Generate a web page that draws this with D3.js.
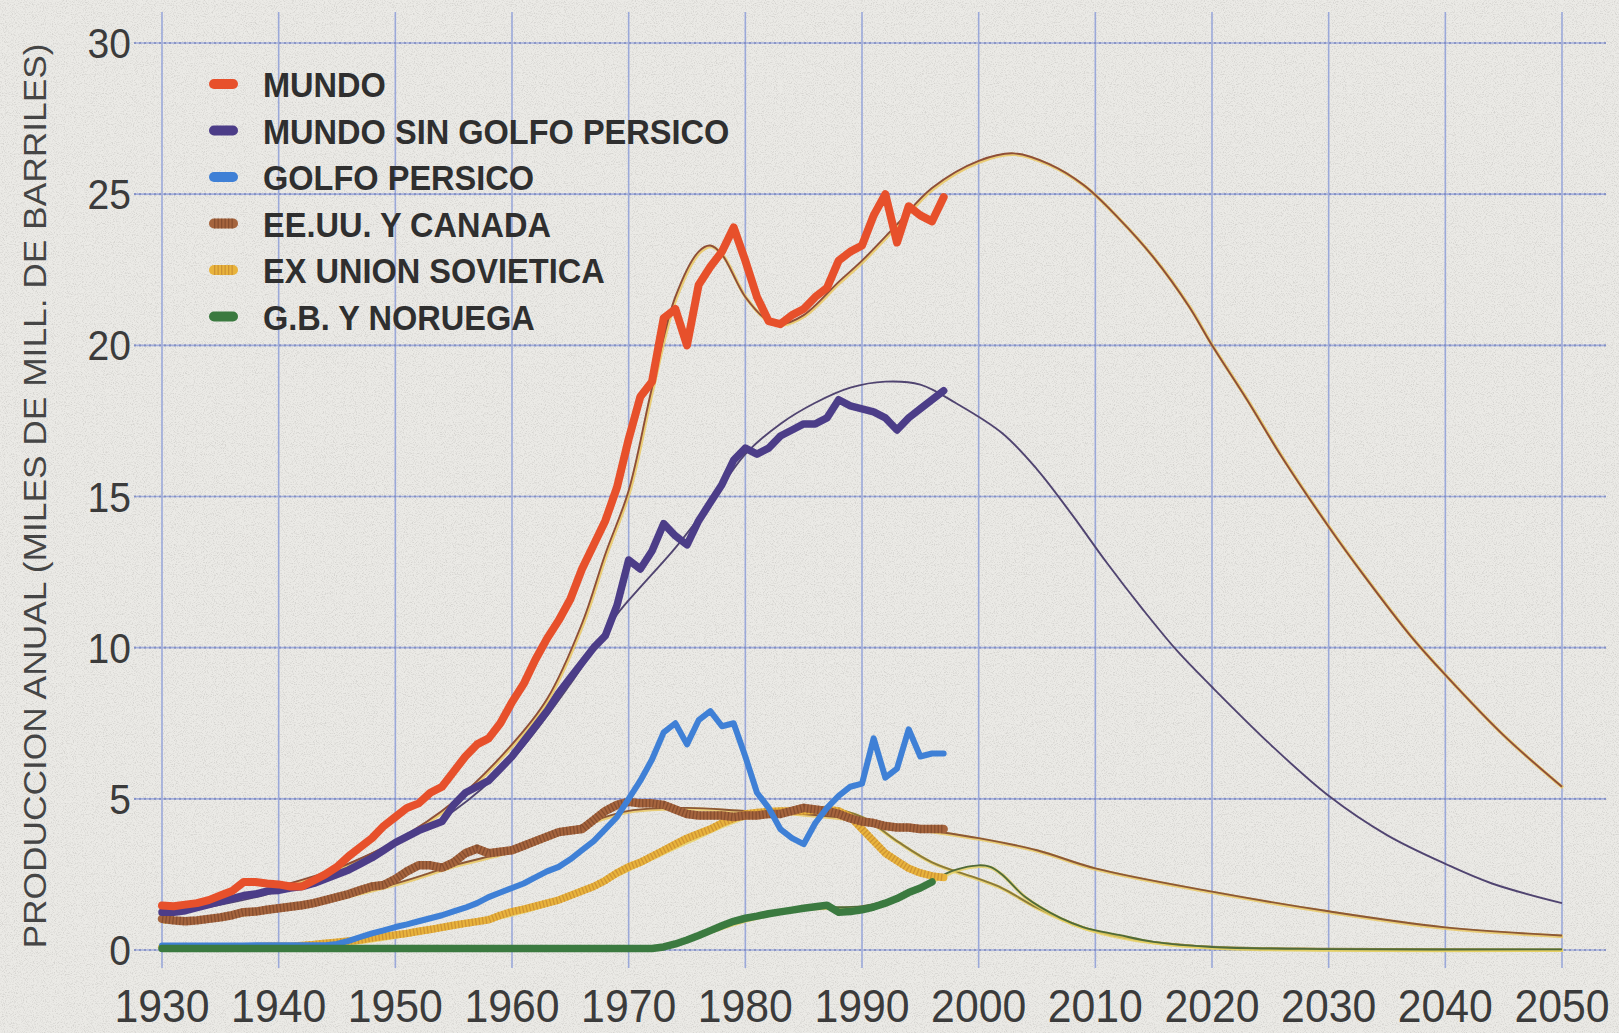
<!DOCTYPE html>
<html>
<head>
<meta charset="utf-8">
<script src="https://cdn.jsdelivr.net/npm/d3@7"></script>
<style>
  html, body { margin: 0; padding: 0; background: #ebeae6; }
  svg { display: block; }
</style>
</head>
<body>
<div id="chart"></div>
<script>
// ---- data ----
const years = [1930,1931,1932,1933,1934,1935,1936,1937,1938,1939,
  1940,1941,1942,1943,1944,1945,1946,1947,1948,1949,
  1950,1951,1952,1953,1954,1955,1956,1957,1958,1959,
  1960,1961,1962,1963,1964,1965,1966,1967,1968,1969,
  1970,1971,1972,1973,1974,1975,1976,1977,1978,1979,
  1980,1981,1982,1983,1984,1985,1986,1987,1988,1989,
  1990,1991,1992,1993,1994,1995,1996,1997];

const mundo = [1.47,1.45,1.5,1.55,1.65,1.8,1.95,2.25,2.25,2.2,
  2.17,2.1,2.1,2.3,2.5,2.75,3.1,3.4,3.7,4.1,
  4.4,4.7,4.85,5.2,5.4,5.9,6.4,6.8,7.0,7.5,
  8.2,8.8,9.6,10.3,10.9,11.6,12.6,13.4,14.2,15.3,
  16.9,18.3,18.8,20.9,21.2,20.0,22.0,22.6,23.1,23.9,
  22.8,21.6,20.8,20.7,21.0,21.2,21.6,21.9,22.8,23.1,
  23.3,24.3,25.0,23.4,24.6,24.3,24.1,24.9];

const mundoSinGolfo = [1.25,1.25,1.3,1.4,1.5,1.6,1.7,1.8,1.85,1.95,
  1.97,2.05,2.1,2.2,2.35,2.5,2.65,2.85,3.05,3.3,
  3.55,3.75,3.95,4.1,4.25,4.8,5.2,5.4,5.6,6.0,
  6.4,6.9,7.4,7.9,8.5,9.0,9.5,10.0,10.4,11.4,
  12.9,12.6,13.2,14.1,13.7,13.4,14.2,14.8,15.4,16.2,
  16.6,16.4,16.6,17.0,17.2,17.4,17.4,17.6,18.2,18.0,
  17.9,17.8,17.6,17.2,17.6,17.9,18.2,18.5];

const golfoPersico = [0.15,0.15,0.15,0.15,0.15,0.15,0.15,0.15,0.16,0.16,
  0.16,0.16,0.16,0.16,0.16,0.2,0.3,0.43,0.55,0.65,
  0.76,0.85,0.95,1.05,1.15,1.28,1.4,1.55,1.75,1.9,
  2.05,2.2,2.4,2.6,2.75,3.0,3.3,3.6,4.0,4.4,
  5.0,5.6,6.3,7.2,7.5,6.8,7.6,7.9,7.4,7.5,
  6.4,5.2,4.7,4.0,3.7,3.5,4.2,4.7,5.1,5.4,
  5.5,7.0,5.7,6.0,7.3,6.4,6.5,6.5];

const eeuuCanada = [1.03,0.98,0.95,0.98,1.03,1.08,1.15,1.25,1.27,1.33,
  1.38,1.43,1.48,1.55,1.65,1.75,1.85,1.98,2.1,2.15,
  2.35,2.6,2.8,2.8,2.72,2.9,3.2,3.35,3.2,3.25,
  3.3,3.45,3.6,3.75,3.9,3.95,4.0,4.3,4.6,4.8,
  4.9,4.85,4.85,4.8,4.65,4.5,4.45,4.45,4.45,4.4,
  4.45,4.45,4.5,4.5,4.6,4.7,4.65,4.6,4.5,4.35,
  4.25,4.2,4.1,4.05,4.05,4.0,4.0,4.0];

const exUrss = [0.1,0.1,0.1,0.1,0.1,0.1,0.1,0.11,0.11,0.12,
  0.12,0.12,0.15,0.18,0.22,0.26,0.3,0.33,0.4,0.45,
  0.5,0.55,0.62,0.68,0.75,0.82,0.88,0.94,1.0,1.15,
  1.27,1.35,1.45,1.55,1.65,1.8,1.95,2.1,2.3,2.55,
  2.75,2.9,3.1,3.3,3.5,3.7,3.85,4.0,4.2,4.35,
  4.5,4.55,4.58,4.6,4.6,4.6,4.62,4.65,4.6,4.4,
  4.0,3.6,3.2,2.95,2.7,2.55,2.45,2.4];

// G.B. y Noruega ends in 1996
const gbNoruega = [0.05,0.05,0.05,0.05,0.05,0.05,0.05,0.05,0.05,0.05,
  0.05,0.05,0.05,0.05,0.05,0.05,0.05,0.05,0.05,0.05,
  0.05,0.05,0.05,0.05,0.05,0.05,0.05,0.05,0.05,0.05,
  0.05,0.05,0.05,0.05,0.05,0.05,0.05,0.05,0.05,0.05,
  0.05,0.05,0.05,0.1,0.2,0.33,0.48,0.64,0.8,0.95,
  1.05,1.12,1.2,1.26,1.32,1.38,1.43,1.48,1.25,1.27,
  1.33,1.42,1.55,1.7,1.9,2.05,2.25];

// fitted (thin) curves, projected to 2050
const fitMundoYears = [1930,1935,1940,1945,1950,1955,1960,1963,1966,1968,1970,1972,1974,1976,1977,1978,1980,1982,1983,1985,1988,1990,1993,1996,2000,2003,2006,2009,2012,2015,2018,2020,2023,2026,2030,2033,2037,2040,2045,2050];
const fitMundo = [1.3,1.6,2.1,2.7,3.6,4.9,6.8,8.3,10.8,13.1,15.2,18.6,21.6,23.1,23.3,23.0,21.6,20.8,20.7,21.0,22.1,22.8,24.0,25.2,26.1,26.35,26.0,25.3,24.2,22.9,21.3,20.0,18.2,16.3,14.0,12.4,10.4,9.1,7.1,5.4];

const fitSinGolfoYears = [1930,1940,1950,1955,1960,1965,1969,1971,1974,1977,1980,1983,1986,1989,1992,1995,1998,2002,2005,2008,2011,2014,2017,2020,2025,2030,2035,2040,2044,2050];
const fitSinGolfo = [1.15,1.95,3.55,4.6,6.3,8.8,11.1,12.0,13.3,14.8,16.4,17.4,18.1,18.6,18.8,18.7,18.1,17.1,15.9,14.4,12.8,11.3,9.9,8.7,6.8,5.1,3.8,2.85,2.2,1.55];

const fitEeuuYears = [1930,1940,1950,1955,1960,1965,1970,1975,1980,1985,1990,1995,2000,2005,2010,2020,2030,2040,2050];
const fitEeuu = [0.95,1.35,2.2,2.8,3.3,4.0,4.6,4.7,4.6,4.5,4.3,4.0,3.7,3.3,2.7,1.93,1.28,0.75,0.48];

const fitUrssYears = [1930,1945,1955,1960,1965,1970,1975,1980,1985,1987,1990,1993,1996,2000,2002,2005,2009,2012,2015,2020,2030,2050];
const fitUrss = [0.05,0.2,0.8,1.2,1.8,2.7,3.6,4.4,4.65,4.7,4.4,3.6,2.9,2.35,2.05,1.4,0.75,0.45,0.27,0.11,0.04,0.02];

const fitGbYears = [1970,1973,1976,1980,1985,1990,1993,1996,1998,2000,2001,2002,2004,2007,2009,2012,2015,2020,2030,2050];
const fitGb = [0.03,0.12,0.5,1.0,1.38,1.45,1.75,2.3,2.65,2.8,2.75,2.5,1.75,1.06,0.75,0.5,0.27,0.1,0.03,0.02];

const xTicks = [1930,1940,1950,1960,1970,1980,1990,2000,2010,2020,2030,2040,2050];
const yTicks = [0,5,10,15,20,25,30];
const legendLabels = ["MUNDO","MUNDO SIN GOLFO PERSICO","GOLFO PERSICO","EE.UU. Y CANADA","EX UNION SOVIETICA","G.B. Y NORUEGA"];
const yTitle = "PRODUCCION ANUAL (MILES DE MILL. DE BARRILES)";

// ---- layout ----
const width = 1619, height = 1033;
const font = "'Liberation Sans', Arial, Helvetica, sans-serif";

const x = d3.scaleLinear().domain([1930, 2050]).range([162, 1562]);
const y = d3.scaleLinear().domain([0, 30]).range([950, 43]);

const svg = d3.select("#chart").append("svg")
    .attr("width", width)
    .attr("height", height);

// paper grain
const defs = svg.append("defs");
const grain = defs.append("filter").attr("id", "grain")
    .attr("x", 0).attr("y", 0).attr("width", "100%").attr("height", "100%");
grain.append("feTurbulence")
    .attr("type", "fractalNoise").attr("baseFrequency", 0.9)
    .attr("numOctaves", 2).attr("seed", 7);
grain.append("feColorMatrix").attr("type", "matrix")
    .attr("values", "0 0 0 0 0.45  0 0 0 0 0.44  0 0 0 0 0.42  3.2 0 0 0 -1.5");

svg.append("rect").attr("width", width).attr("height", height).attr("fill", "#ebeae6");
svg.append("rect").attr("width", width).attr("height", height)
    .attr("filter", "url(#grain)").attr("opacity", 0.38);

// ---- grid ----
const grid = svg.append("g");
grid.selectAll(".vgrid").data(xTicks).join("line")
    .attr("x1", d => x(d)).attr("x2", d => x(d))
    .attr("y1", 12).attr("y2", 968)
    .attr("stroke", "#8e9ed8").attr("stroke-width", 1.6).attr("opacity", 0.85);
grid.selectAll(".hgrid").data(yTicks).join("line")
    .attr("x1", 134).attr("x2", 1606)
    .attr("y1", d => y(d)).attr("y2", d => y(d))
    .attr("stroke", "#a3aedb").attr("stroke-width", 1.6);
grid.selectAll(".hdots").data(yTicks).join("line")
    .attr("x1", 134).attr("x2", 1606)
    .attr("y1", d => y(d)).attr("y2", d => y(d))
    .attr("stroke", "#6a78b4").attr("stroke-width", 2.2)
    .attr("stroke-dasharray", "2 3").attr("opacity", 0.55);

// ---- axes labels ----
svg.append("g").selectAll("text").data(xTicks).join("text")
    .attr("transform", d => `translate(${x(d)},1022) scale(0.93,1)`)
    .attr("text-anchor", "middle")
    .attr("font-family", font).attr("font-size", 46)
    .attr("fill", "#3b3b3b")
    .text(d => d);

svg.append("g").selectAll("text").data(yTicks).join("text")
    .attr("transform", d => `translate(131,${y(d) + 15}) scale(0.93,1)`)
    .attr("text-anchor", "end")
    .attr("font-family", font).attr("font-size", 42)
    .attr("fill", "#3b3b3b")
    .text(d => d);

svg.append("text")
    .attr("transform", "translate(46,496) rotate(-90)")
    .attr("text-anchor", "middle")
    .attr("font-family", font).attr("font-size", 31)
    .attr("fill", "#454545")
    .attr("textLength", 905).attr("lengthAdjust", "spacingAndGlyphs")
    .text(yTitle);

// ---- lines ----
const thick = d3.line().x(d => x(d[0])).y(d => y(d[1])).curve(d3.curveLinear);
const smooth = d3.line().x(d => x(d[0])).y(d => y(d[1])).curve(d3.curveCatmullRom.alpha(0.5));
const pairs = (xs, vs) => vs.map((v, i) => [xs[i], v]);

// thin fitted curves
const fits = [
  {xs: fitEeuuYears, vs: fitEeuu, color: "#8c5836", glow: "#e8c65a"},
  {xs: fitUrssYears, vs: fitUrss, color: "#8a7a3a", glow: "#ead05c"},
  {xs: fitGbYears, vs: fitGb, color: "#4f6a3a", glow: "#e4d060"},
  {xs: fitSinGolfoYears, vs: fitSinGolfo, color: "#504470", glow: null},
  {xs: fitMundoYears, vs: fitMundo, color: "#8e4e38", glow: "#eac65a"}
];
const fitG = svg.append("g");
fits.forEach(f => {
  const d = smooth(pairs(f.xs, f.vs));
  if (f.glow) {
    fitG.append("path").attr("d", d).attr("fill", "none")
        .attr("stroke", f.glow).attr("stroke-width", 3.4).attr("opacity", 0.8)
        .attr("transform", "translate(1,1)");
  }
  fitG.append("path").attr("d", d).attr("fill", "none")
      .attr("stroke", f.color).attr("stroke-width", 1.9)
      .attr("stroke-linejoin", "round");
});

// thick historical series
const series = [
  {vs: exUrss, color: "#e8b33c", w: 7.5, hatch: "#b97a2c"},
  {vs: eeuuCanada, color: "#a5643d", w: 8.5, hatch: "#6e3d24"},
  {vs: golfoPersico, color: "#3f80d6", w: 6},
  {vs: mundoSinGolfo, color: "#4c3d88", w: 7.5},
  {vs: mundo, color: "#e7502b", w: 8},
  {vs: gbNoruega, color: "#3b7a40", w: 7.5}
];
const lineG = svg.append("g");
series.forEach(s => {
  const d = thick(pairs(years, s.vs));
  lineG.append("path").attr("d", d).attr("fill", "none")
      .attr("stroke", s.color).attr("stroke-width", s.w)
      .attr("stroke-linejoin", "round").attr("stroke-linecap", "round");
  if (s.hatch) {
    lineG.append("path").attr("d", d).attr("fill", "none")
        .attr("stroke", s.hatch).attr("stroke-width", s.w)
        .attr("stroke-dasharray", "1.3 2.2").attr("opacity", 0.55);
  }
});

// ---- legend ----
const legendColors = ["#e7502b", "#4c3d88", "#3f80d6", "#a5643d", "#e8b33c", "#3b7a40"];
const legendHatch = [null, null, null, "#6e3d24", "#b97a2c", null];
const legend = svg.append("g");
const rows = legend.selectAll("g").data(legendLabels).join("g")
    .attr("transform", (d, i) => `translate(0,${84 + i * 46.5})`);
rows.append("line")
    .attr("x1", 214).attr("x2", 233).attr("y1", 0).attr("y2", 0)
    .attr("stroke", (d, i) => legendColors[i]).attr("stroke-width", 10)
    .attr("stroke-linecap", "round");
rows.filter((d, i) => legendHatch[i]).append("line")
    .attr("x1", 214).attr("x2", 233).attr("y1", 0).attr("y2", 0)
    .attr("stroke", d => legendHatch[legendLabels.indexOf(d)])
    .attr("stroke-width", 10).attr("stroke-dasharray", "1.3 2.2").attr("opacity", 0.55);
rows.append("text")
    .attr("transform", "translate(263,13) scale(0.93,1)")
    .attr("font-family", font).attr("font-size", 35).attr("font-weight", "bold")
    .attr("fill", "#2f2f2f")
    .text(d => d);
</script>
</body>
</html>
